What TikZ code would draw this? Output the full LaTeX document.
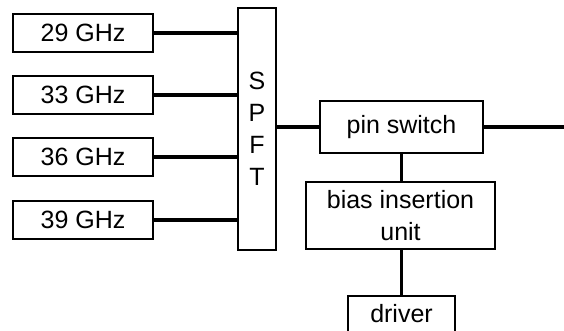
\documentclass[tikz,border=0pt]{standalone}
\usepackage{fontspec}
\setmainfont{Liberation Sans}
\usetikzlibrary{positioning, calc}
\tikzset{
  blk/.style={rectangle, draw=black, line width=1.8pt, fill=white,
    inner sep=0pt, align=center, font=\fontsize{25}{32}\selectfont},
  freq/.style={blk, minimum width=140pt, minimum height=38pt},
  feed/.style={line width=4pt},
  ctrl/.style={line width=2.2pt},
}
\begin{document}
\begin{tikzpicture}[x=1pt, y=-1pt]
    \useasboundingbox (0,0) rectangle (564,330);
    \node[blk, minimum width=38pt, minimum height=242pt] (spft) at (257,129) {S\\P\\F\\T};
    \foreach \f/\y in {29/33, 33/95, 36/157, 39/220} {
      \node[freq] (f\f) at (83,\y) {\f\ GHz};
      \draw[feed] (f\f.east) -- (f\f.east -| spft.west);
    }
    \node[blk, minimum width=163pt, minimum height=52pt] (pin) at (401.5,127) {pin switch};
    \node[blk, minimum width=189pt, minimum height=67pt, below=27pt of pin, xshift=-1pt] (bias) {bias insertion\\unit};
    \node[blk, minimum width=107pt, minimum height=36pt, below=45pt of bias, xshift=1pt] (drv) {driver};
    \coordinate (out) at (564,127);
    \draw[feed] (spft.east |- pin.west) -- (pin.west);
    \draw[feed] (pin.east) -- (out);
    \draw[ctrl] (pin.south) -- (pin.south |- bias.north);
    \draw[ctrl] (bias.south -| drv.north) -- (drv.north);
\end{tikzpicture}
\end{document}
